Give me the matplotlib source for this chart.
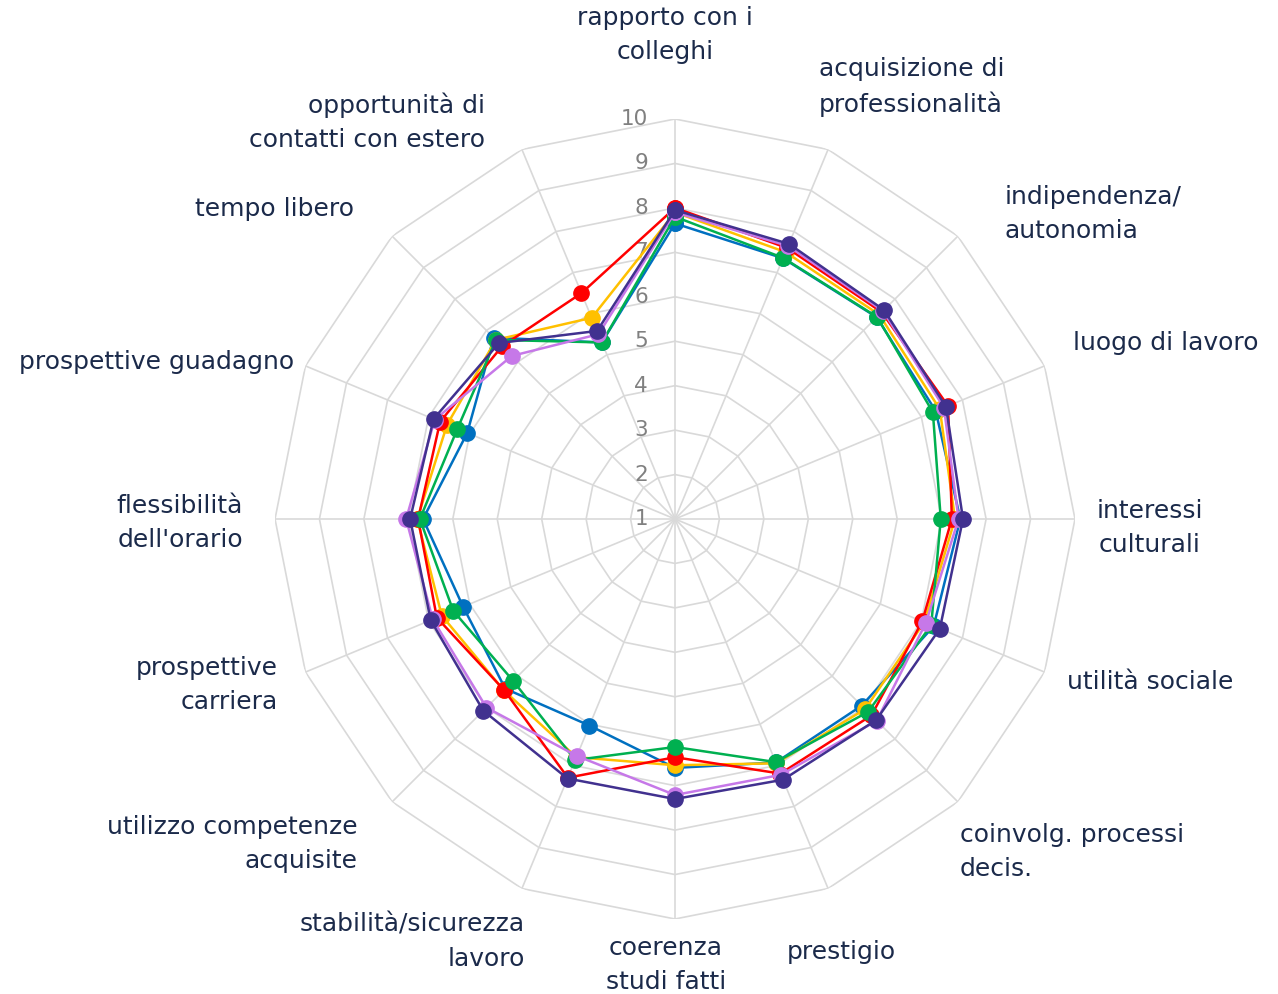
import numpy as np
import matplotlib
matplotlib.use('Agg')
import matplotlib.pyplot as plt
from matplotlib.transforms import offset_copy

# categories, clockwise from the top
categories = ["rapporto con i\ncolleghi", "acquisizione di\nprofessionalità",
              "indipendenza/\nautonomia", "luogo di lavoro", "interessi\nculturali",
              "utilità sociale", "coinvolg. processi\ndecis.", "prestigio",
              "coerenza\nstudi fatti", "stabilità/sicurezza\nlavoro",
              "utilizzo competenze\nacquisite", "prospettive\ncarriera",
              "flessibilità\ndell'orario", "prospettive guadagno", "tempo libero",
              "opportunità di\ncontatti con estero"]

blue = [7.65, 7.35, 7.42, 7.35, 7.42, 7.30, 6.94, 6.93, 6.60, 6.03, 6.40, 6.16, 6.67, 6.06, 6.77, 5.30]
yellow = [7.90, 7.50, 7.50, 7.45, 7.30, 7.07, 7.05, 6.95, 6.54, 6.80, 6.45, 6.68, 6.80, 6.55, 6.70, 5.90]
red = [8.00, 7.60, 7.58, 7.65, 7.23, 7.02, 7.25, 7.20, 6.36, 7.30, 6.44, 6.80, 6.78, 6.72, 6.50, 6.50]
green = [7.80, 7.36, 7.43, 7.28, 6.98, 7.24, 7.14, 6.92, 6.13, 6.87, 6.15, 6.40, 6.74, 6.30, 6.70, 5.30]
purple = [7.90, 7.65, 7.62, 7.55, 7.38, 7.11, 7.42, 7.23, 7.21, 6.77, 7.00, 6.90, 7.05, 6.85, 6.19, 5.50]
indigo = [7.95, 7.70, 7.65, 7.60, 7.48, 7.45, 7.40, 7.35, 7.30, 7.32, 7.10, 6.95, 6.96, 6.88, 6.60, 5.58]

series = [(blue, '#0070C0'), (yellow, '#FFC000'), (red, '#FF0000'),
          (green, '#00B050'), (purple, '#C678E8'), (indigo, '#41318F')]

ticks = list(range(1, 11))

# label anchor positions in pixels (x, y, ha)
label_pos = [(665, 35, 'center'), (819, 87, 'left'), (1005, 214, 'left'),
             (1073, 343, 'left'), (1150, 528, 'center'), (1067, 682, 'left'),
             (960, 852, 'left'), (787, 952, 'left'), (666, 965, 'center'),
             (525, 942, 'right'), (358, 844, 'right'), (278, 685, 'right'),
             (180, 523, 'center'), (294, 362, 'right'), (354, 209, 'right'),
             (485, 122, 'right')]

W, H = 1278, 994
fig = plt.figure(figsize=(W / 100, H / 100), dpi=100)
cx, cy, R = 675, 519, 400
ax = fig.add_axes([(cx - R) / W, (H - cy - R) / H, 2 * R / W, 2 * R / H], projection='polar')
ax.set_theta_zero_location('N')
ax.set_theta_direction(-1)
ax.set_ylim(1, 10)
ax.grid(False)
ax.spines['polar'].set_visible(False)
ax.set_xticks([])
ax.set_yticks([])
ax.patch.set_alpha(0)

n = len(categories)
angles = np.linspace(0, 2 * np.pi, n, endpoint=False)
closed = np.append(angles, angles[0])

# polygon grid and spokes
for t in ticks[1:]:
    ax.plot(closed, [t] * (n + 1), color='#D9D9D9', lw=1.2, zorder=1)
for a in angles:
    ax.plot([a, a], [1, 10], color='#D9D9D9', lw=1.2, zorder=1)

# radial tick labels
off = offset_copy(ax.transData, fig=fig, x=-27, y=0, units='dots')
for t in ticks:
    ax.text(0, t, str(t), transform=off, ha='right', va='center',
            fontsize=15.5, color='#808080', zorder=2)

for vals, col in series:
    ax.plot(closed, vals + vals[:1], color=col, lw=1.8, marker='o',
            markersize=11, zorder=3)

for lab, (x, y, ha) in zip(categories, label_pos):
    fig.text(x / W, 1 - y / H, lab, ha=ha, va='center', fontsize=18,
             color='#1B2A4A', linespacing=1.55, multialignment=ha)

fig.savefig('out.png', dpi=100)
